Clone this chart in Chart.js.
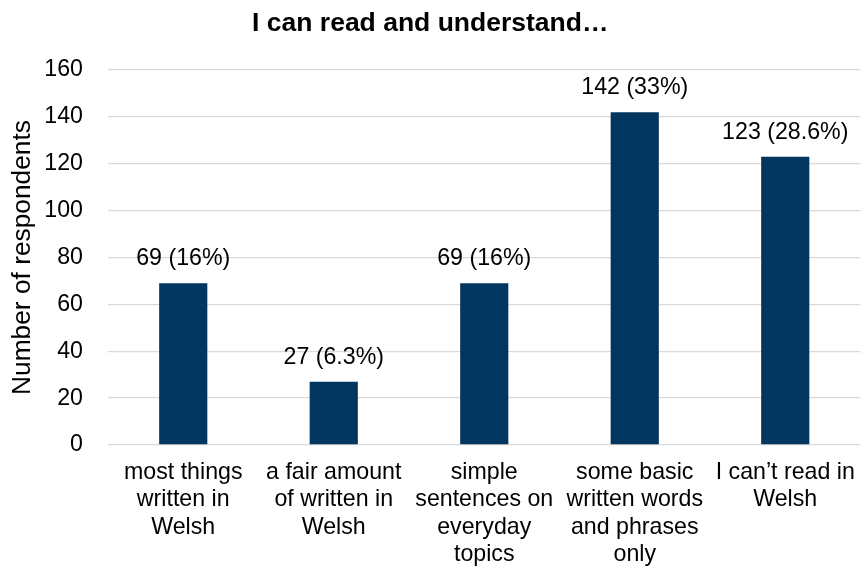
<!DOCTYPE html>
<html>
<head>
<meta charset="utf-8">
<script src="https://cdn.jsdelivr.net/npm/chart.js@4/dist/chart.umd.min.js"></script>
<style>
html,body{margin:0;padding:0;background:#fff;}
#wrap{width:861px;height:572px;position:relative;}
</style>
</head>
<body>
<div id="wrap"><canvas id="c" width="861" height="572"></canvas></div>
<script>
const categories = [
  ["most things", "written in", "Welsh"],
  ["a fair amount", "of written in", "Welsh"],
  ["simple", "sentences on", "everyday", "topics"],
  ["some basic", "written words", "and phrases", "only"],
  ["I can\u2019t read in", "Welsh"]
];
const counts = [69, 27, 69, 142, 123];
const percents = ["16%", "6.3%", "16%", "33%", "28.6%"];
const yTicks = [0, 20, 40, 60, 80, 100, 120, 140, 160];

const FONT = "'Liberation Sans', Arial, sans-serif";

const dataLabels = {
  id: 'dataLabels',
  afterDatasetsDraw(chart) {
    const ctx = chart.ctx;
    const meta = chart.getDatasetMeta(0);
    ctx.save();
    ctx.font = "23.2px " + FONT;
    ctx.fillStyle = "#000";
    ctx.textAlign = "center";
    ctx.textBaseline = "middle";
    meta.data.forEach((bar, i) => {
      ctx.fillText(counts[i] + " (" + percents[i] + ")", bar.x, bar.y - 24.5);
    });
    ctx.restore();
  }
};

new Chart(document.getElementById('c'), {
  type: 'bar',
  data: {
    labels: categories,
    datasets: [{
      data: counts,
      backgroundColor: '#02365F',
      borderWidth: 0,
      barPercentage: 0.32,
      categoryPercentage: 1.0
    }]
  },
  options: {
    responsive: false,
    animation: false,
    devicePixelRatio: 1,
    layout: { padding: { left: 0, right: 0.5, top: 0, bottom: 0 } },
    plugins: {
      legend: { display: false },
      tooltip: { enabled: false },
      title: {
        display: true,
        text: "I can read and understand\u2026",
        color: "#000",
        font: { family: FONT, size: 26.5, weight: 'bold', lineHeight: 1.2 },
        padding: { top: 8, bottom: 30.2 }
      }
    },
    scales: {
      x: {
        grid: { display: false, drawTicks: false },
        border: { display: false },
        ticks: {
          color: "#000",
          font: { family: FONT, size: 23.2, lineHeight: 1.18 },
          padding: 14,
          maxRotation: 0,
          autoSkip: false
        },
        afterFit(scale) {
          scale.height = 127;
          scale.paddingLeft = 0;
          scale.paddingRight = 0;
        }
      },
      y: {
        min: 0,
        max: 160,
        afterBuildTicks(scale) { scale.ticks = yTicks.map(v => ({ value: v })); },
        grid: { color: '#d9d9d9', lineWidth: 1.3, drawTicks: false },
        border: { display: false },
        ticks: {
          color: "#000",
          font: { family: FONT, size: 23.2 },
          padding: 25
        },
        title: {
          display: true,
          text: "Number of respondents",
          color: "#000",
          font: { family: FONT, size: 26.3, lineHeight: 1.2 },
          padding: { top: 7, bottom: 0 }
        },
        afterFit(scale) { scale.width = 108; }
      }
    }
  },
  plugins: [dataLabels]
});
</script>
</body>
</html>
